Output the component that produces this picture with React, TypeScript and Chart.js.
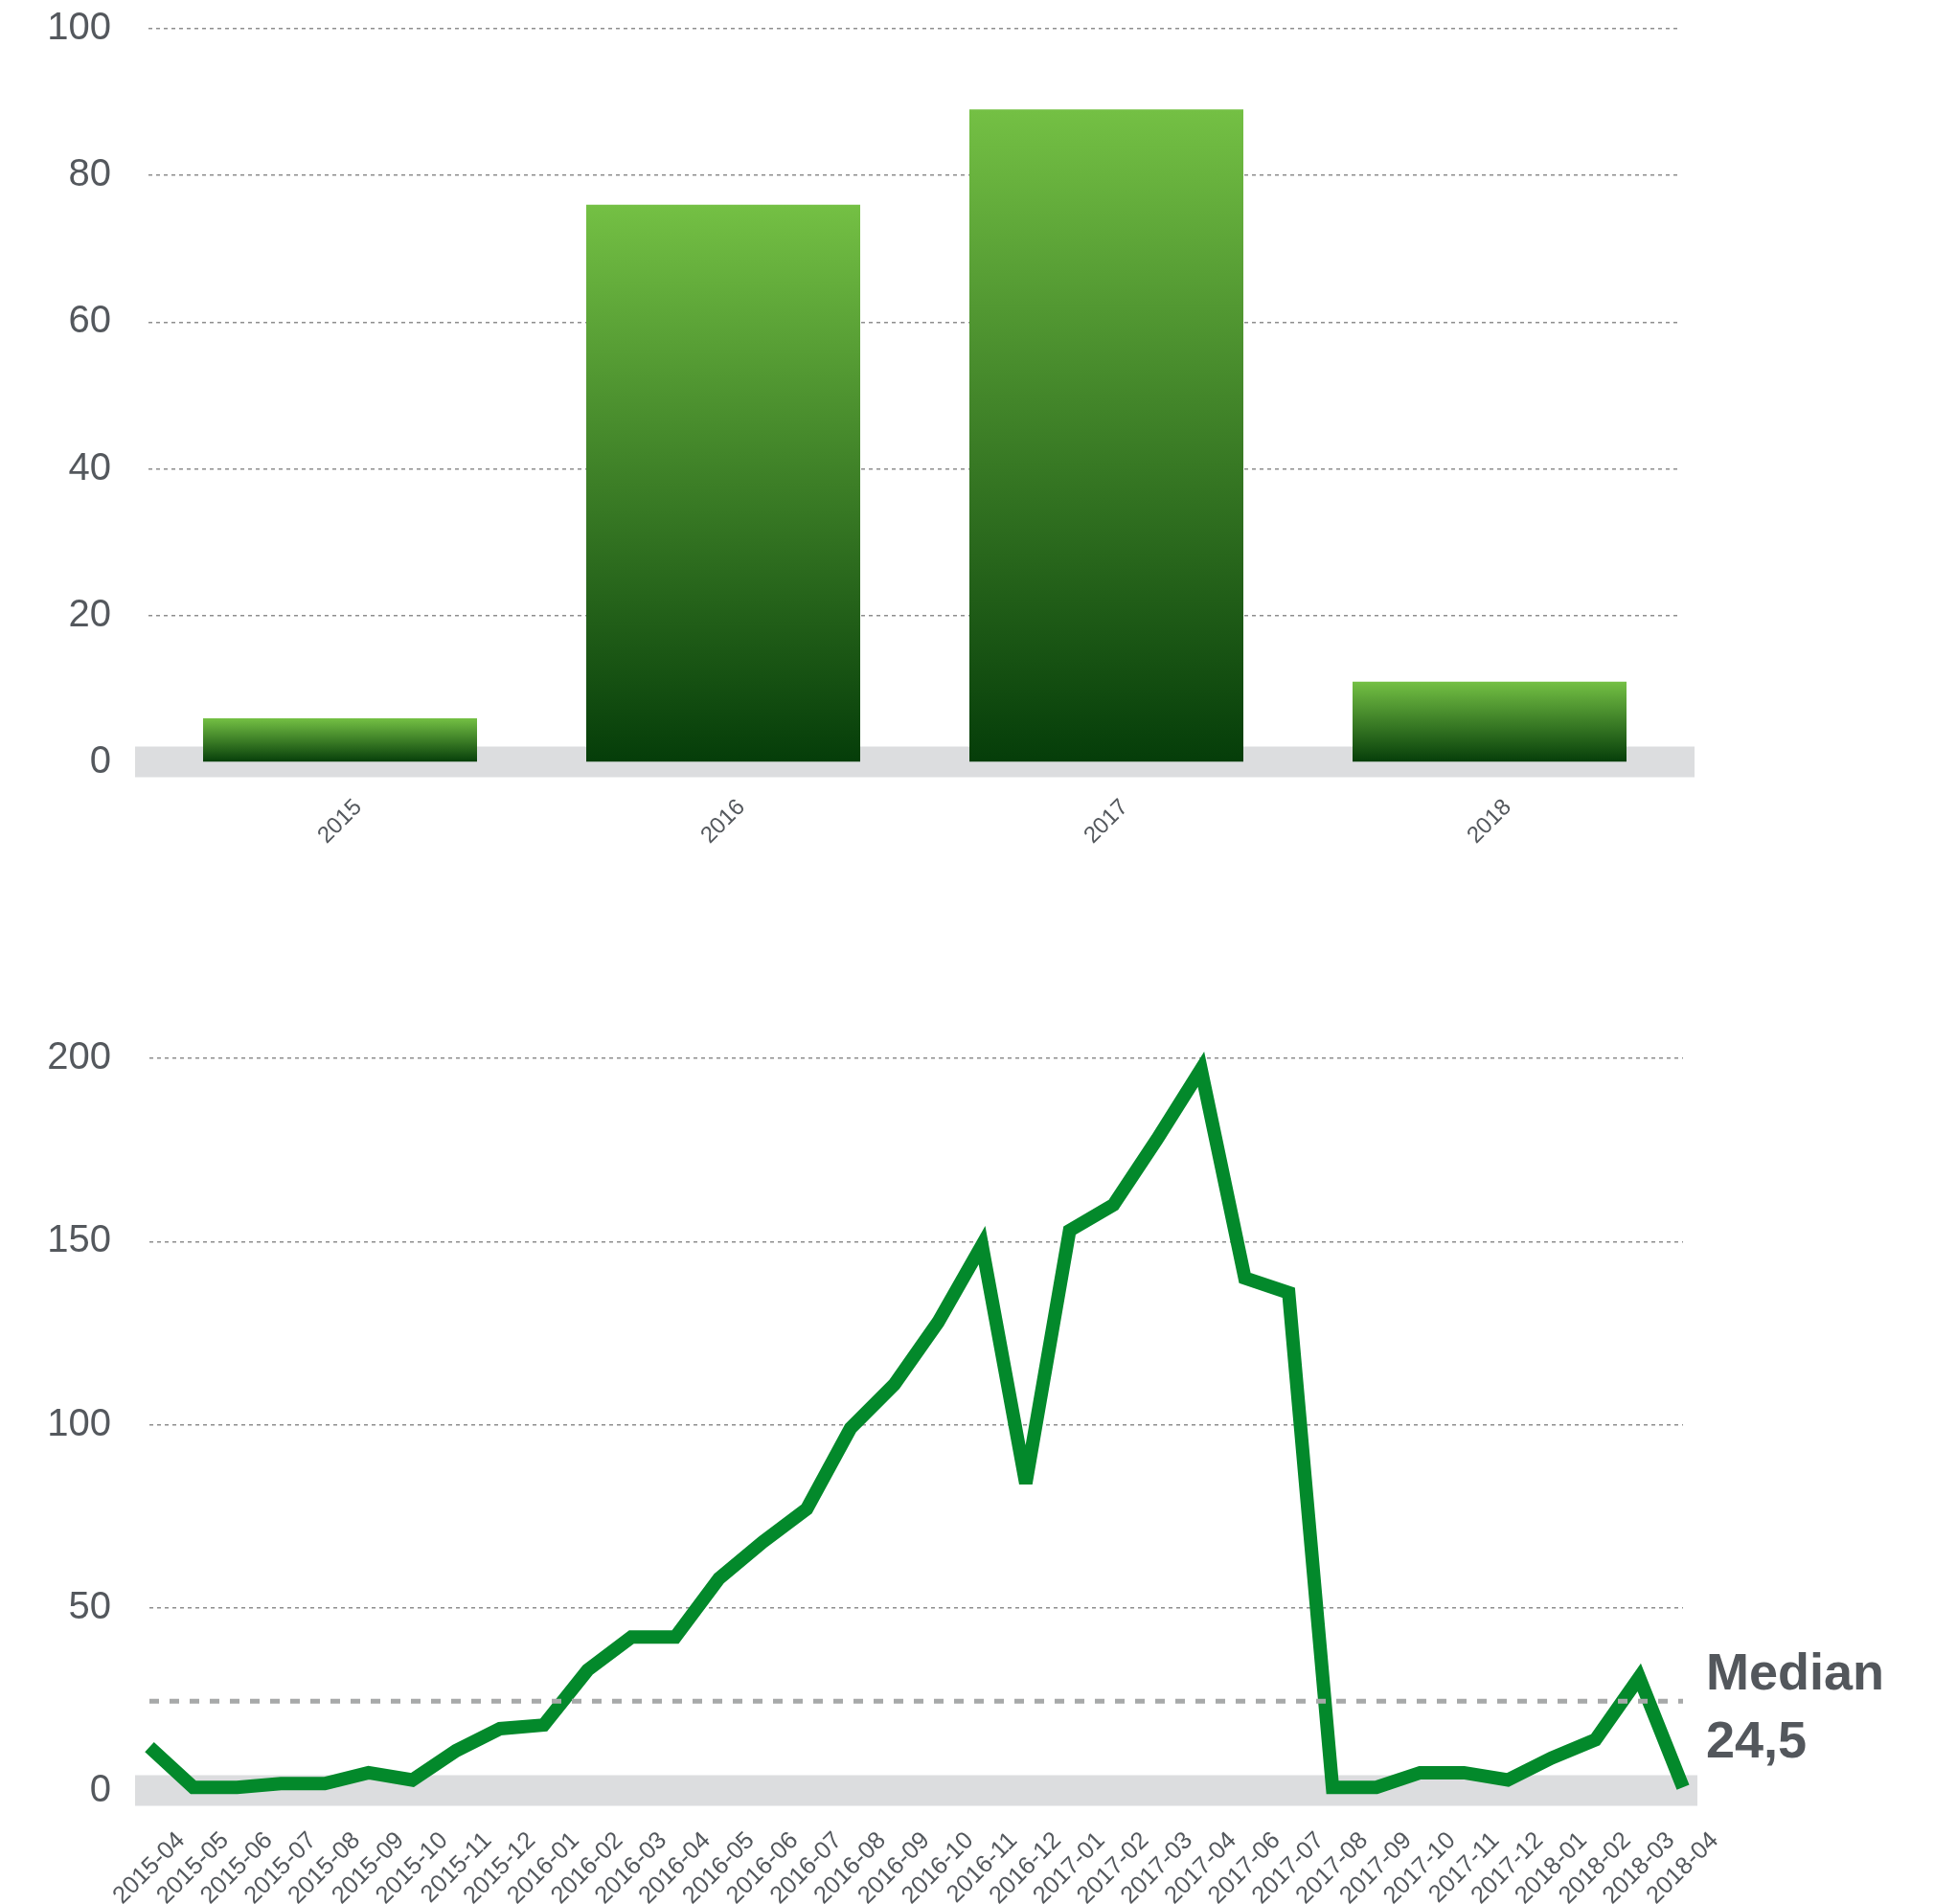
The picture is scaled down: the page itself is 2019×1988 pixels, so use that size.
import React, { useEffect, useRef } from "react";
import { Chart, registerables } from "chart.js";

Chart.register(...registerables);

// ---------- data ----------
const YEARS = ["2015", "2016", "2017", "2018"];
const YEAR_VALUES = [6, 76, 89, 11];
const YEAR_TICKS = { min: 0, max: 100, step: 20 };

const MONTHS = [
  "2015-04", "2015-05", "2015-06", "2015-07", "2015-08", "2015-09", "2015-10", "2015-11", "2015-12",
  "2016-01", "2016-02", "2016-03", "2016-04", "2016-05", "2016-06", "2016-07", "2016-08", "2016-09",
  "2016-10", "2016-11", "2016-12", "2017-01", "2017-02", "2017-03", "2017-04", "2017-06", "2017-07",
  "2017-08", "2017-09", "2017-10", "2017-11", "2017-12", "2018-01", "2018-02", "2018-03", "2018-04",
];
const MONTH_VALUES = [
  12, 1, 1, 2, 2, 5, 3, 11, 17,
  18, 33, 42, 42, 58, 68, 77, 99, 111,
  128, 149, 84, 153, 160, 178, 197, 140, 136,
  1, 1, 5, 5, 3, 9, 14, 31, 1,
];
const MONTH_TICKS = { min: 0, max: 200, step: 50 };
const MEDIAN = 24.5;
const MEDIAN_LABEL = "Median";

// ---------- style ----------
const FONT = "'Liberation Sans', Arial, Helvetica, sans-serif";
const TEXT = "#54585d";
const GRID = "#8e8e8e";
const BAND = "#dcdddf";
const LINE = "#03892b";

const W = 2019;
const TOP_H = 960;
const BOT_TOP = 960;
const BOT_H = 1988 - 960;

const bandPlugin = (ext: number) => ({
  id: "zeroBand",
  beforeDatasetsDraw(chart: any) {
    const { ctx, chartArea, scales } = chart;
    const y0 = scales.y.getPixelForValue(0);
    ctx.save();
    ctx.fillStyle = BAND;
    ctx.fillRect(chartArea.left - ext, y0 - 16.5, chartArea.right - chartArea.left + ext * 2, 32);
    ctx.restore();
  },
});

const miterPlugin = {
  id: "miter",
  beforeDatasetDraw(chart: any) {
    chart.ctx.save();
    chart.ctx.miterLimit = 4;
  },
  afterDatasetDraw(chart: any) {
    chart.ctx.restore();
  },
};

const medianPlugin = {
  id: "median",
  afterDatasetsDraw(chart: any) {
    const { ctx, chartArea, scales } = chart;
    const y = scales.y.getPixelForValue(MEDIAN);
    ctx.save();
    ctx.strokeStyle = "#a7a9a9";
    ctx.lineWidth = 5;
    ctx.setLineDash([10, 11]);
    ctx.beginPath();
    ctx.moveTo(chartArea.left, y);
    ctx.lineTo(chartArea.right, y);
    ctx.stroke();
    ctx.setLineDash([]);
    ctx.fillStyle = "#53575c";
    ctx.font = `bold 54px ${FONT}`;
    ctx.textAlign = "left";
    ctx.textBaseline = "alphabetic";
    const x = chartArea.right + 24;
    ctx.fillText(MEDIAN_LABEL, x, y - 12);
    ctx.fillText(String(MEDIAN).replace(".", ","), x, y + 59);
    ctx.restore();
  },
};

const fixY = (width: number) => (s: any) => {
  s.width = width;
  s.paddingTop = 0;
  s.paddingBottom = 0;
};

export default function App() {
  const topRef = useRef<HTMLCanvasElement | null>(null);
  const botRef = useRef<HTMLCanvasElement | null>(null);

  useEffect(() => {
    Chart.defaults.font.family = FONT;

    const top = new Chart(topRef.current as HTMLCanvasElement, {
      type: "bar",
      data: {
        labels: YEARS,
        datasets: [
          {
            data: YEAR_VALUES,
            categoryPercentage: 1,
            barPercentage: 0.715,
            borderWidth: 0,
            backgroundColor: (c: any) => {
              const chart = c.chart;
              const { chartArea, scales } = chart;
              if (!chartArea || c.type !== "data" || !scales.y) return "#3c8a2b";
              const yt = scales.y.getPixelForValue(c.raw);
              const yb = scales.y.getPixelForValue(0);
              const g = chart.ctx.createLinearGradient(0, yt, 0, yb);
              g.addColorStop(0, "#74c044");
              g.addColorStop(1, "#053d09");
              return g;
            },
          },
        ],
      },
      options: {
        responsive: false,
        animation: false,
        layout: { padding: { top: 30, right: W - 1755, left: 0, bottom: 0 } },
        plugins: { legend: { display: false }, tooltip: { enabled: false } },
        scales: {
          x: {
            grid: { display: false },
            border: { display: false },
            afterFit: (s: any) => {
              s.height = TOP_H - 796;
            },
            ticks: {
              minRotation: 45,
              maxRotation: 45,
              autoSkip: false,
              padding: 25,
              labelOffset: 19,
              color: TEXT,
              font: { size: 24, family: FONT },
            },
          },
          y: {
            min: YEAR_TICKS.min,
            max: YEAR_TICKS.max,
            afterFit: fixY(155),
            grid: { color: GRID, lineWidth: 1.5, drawTicks: false },
            border: { display: false, dash: [4, 4] },
            ticks: {
              stepSize: YEAR_TICKS.step,
              padding: 39,
              color: TEXT,
              font: { size: 40, family: FONT },
            },
          },
        },
      },
      plugins: [bandPlugin(14)],
    });

    const bot = new Chart(botRef.current as HTMLCanvasElement, {
      type: "line",
      data: {
        labels: MONTHS,
        datasets: [
          {
            data: MONTH_VALUES,
            borderColor: LINE,
            borderWidth: 14,
            borderJoinStyle: "miter",
            borderCapStyle: "butt",
            pointRadius: 0,
            tension: 0,
            fill: false,
            clip: false as any,
          },
        ],
      },
      options: {
        responsive: false,
        animation: false,
        layout: { padding: { top: 145, right: W - 1757, left: 0, bottom: 0 } },
        plugins: { legend: { display: false }, tooltip: { enabled: false } },
        scales: {
          x: {
            grid: { display: false },
            border: { display: false },
            afterFit: (s: any) => {
              s.height = BOT_H - 910;
            },
            ticks: {
              minRotation: 45,
              maxRotation: 45,
              autoSkip: false,
              padding: 29,
              labelOffset: 33,
              color: TEXT,
              font: { size: 25.5, family: FONT },
            },
          },
          y: {
            min: MONTH_TICKS.min,
            max: MONTH_TICKS.max,
            afterFit: fixY(156),
            grid: { color: GRID, lineWidth: 1.5, drawTicks: false },
            border: { display: false, dash: [4, 4] },
            ticks: {
              stepSize: MONTH_TICKS.step,
              padding: 40,
              color: TEXT,
              font: { size: 40, family: FONT },
            },
          },
        },
      },
      plugins: [bandPlugin(15), miterPlugin, medianPlugin],
    });

    return () => {
      top.destroy();
      bot.destroy();
    };
  }, []);

  return (
    <div style={{ position: "absolute", left: 0, top: 0, width: W, height: 1988, overflow: "hidden", background: "#fff" }}>
      <canvas
        ref={topRef}
        width={W}
        height={TOP_H}
        style={{ position: "absolute", left: 0, top: 0, width: W, height: TOP_H }}
      />
      <canvas
        ref={botRef}
        width={W}
        height={BOT_H}
        style={{ position: "absolute", left: 0, top: BOT_TOP, width: W, height: BOT_H }}
      />
    </div>
  );
}
